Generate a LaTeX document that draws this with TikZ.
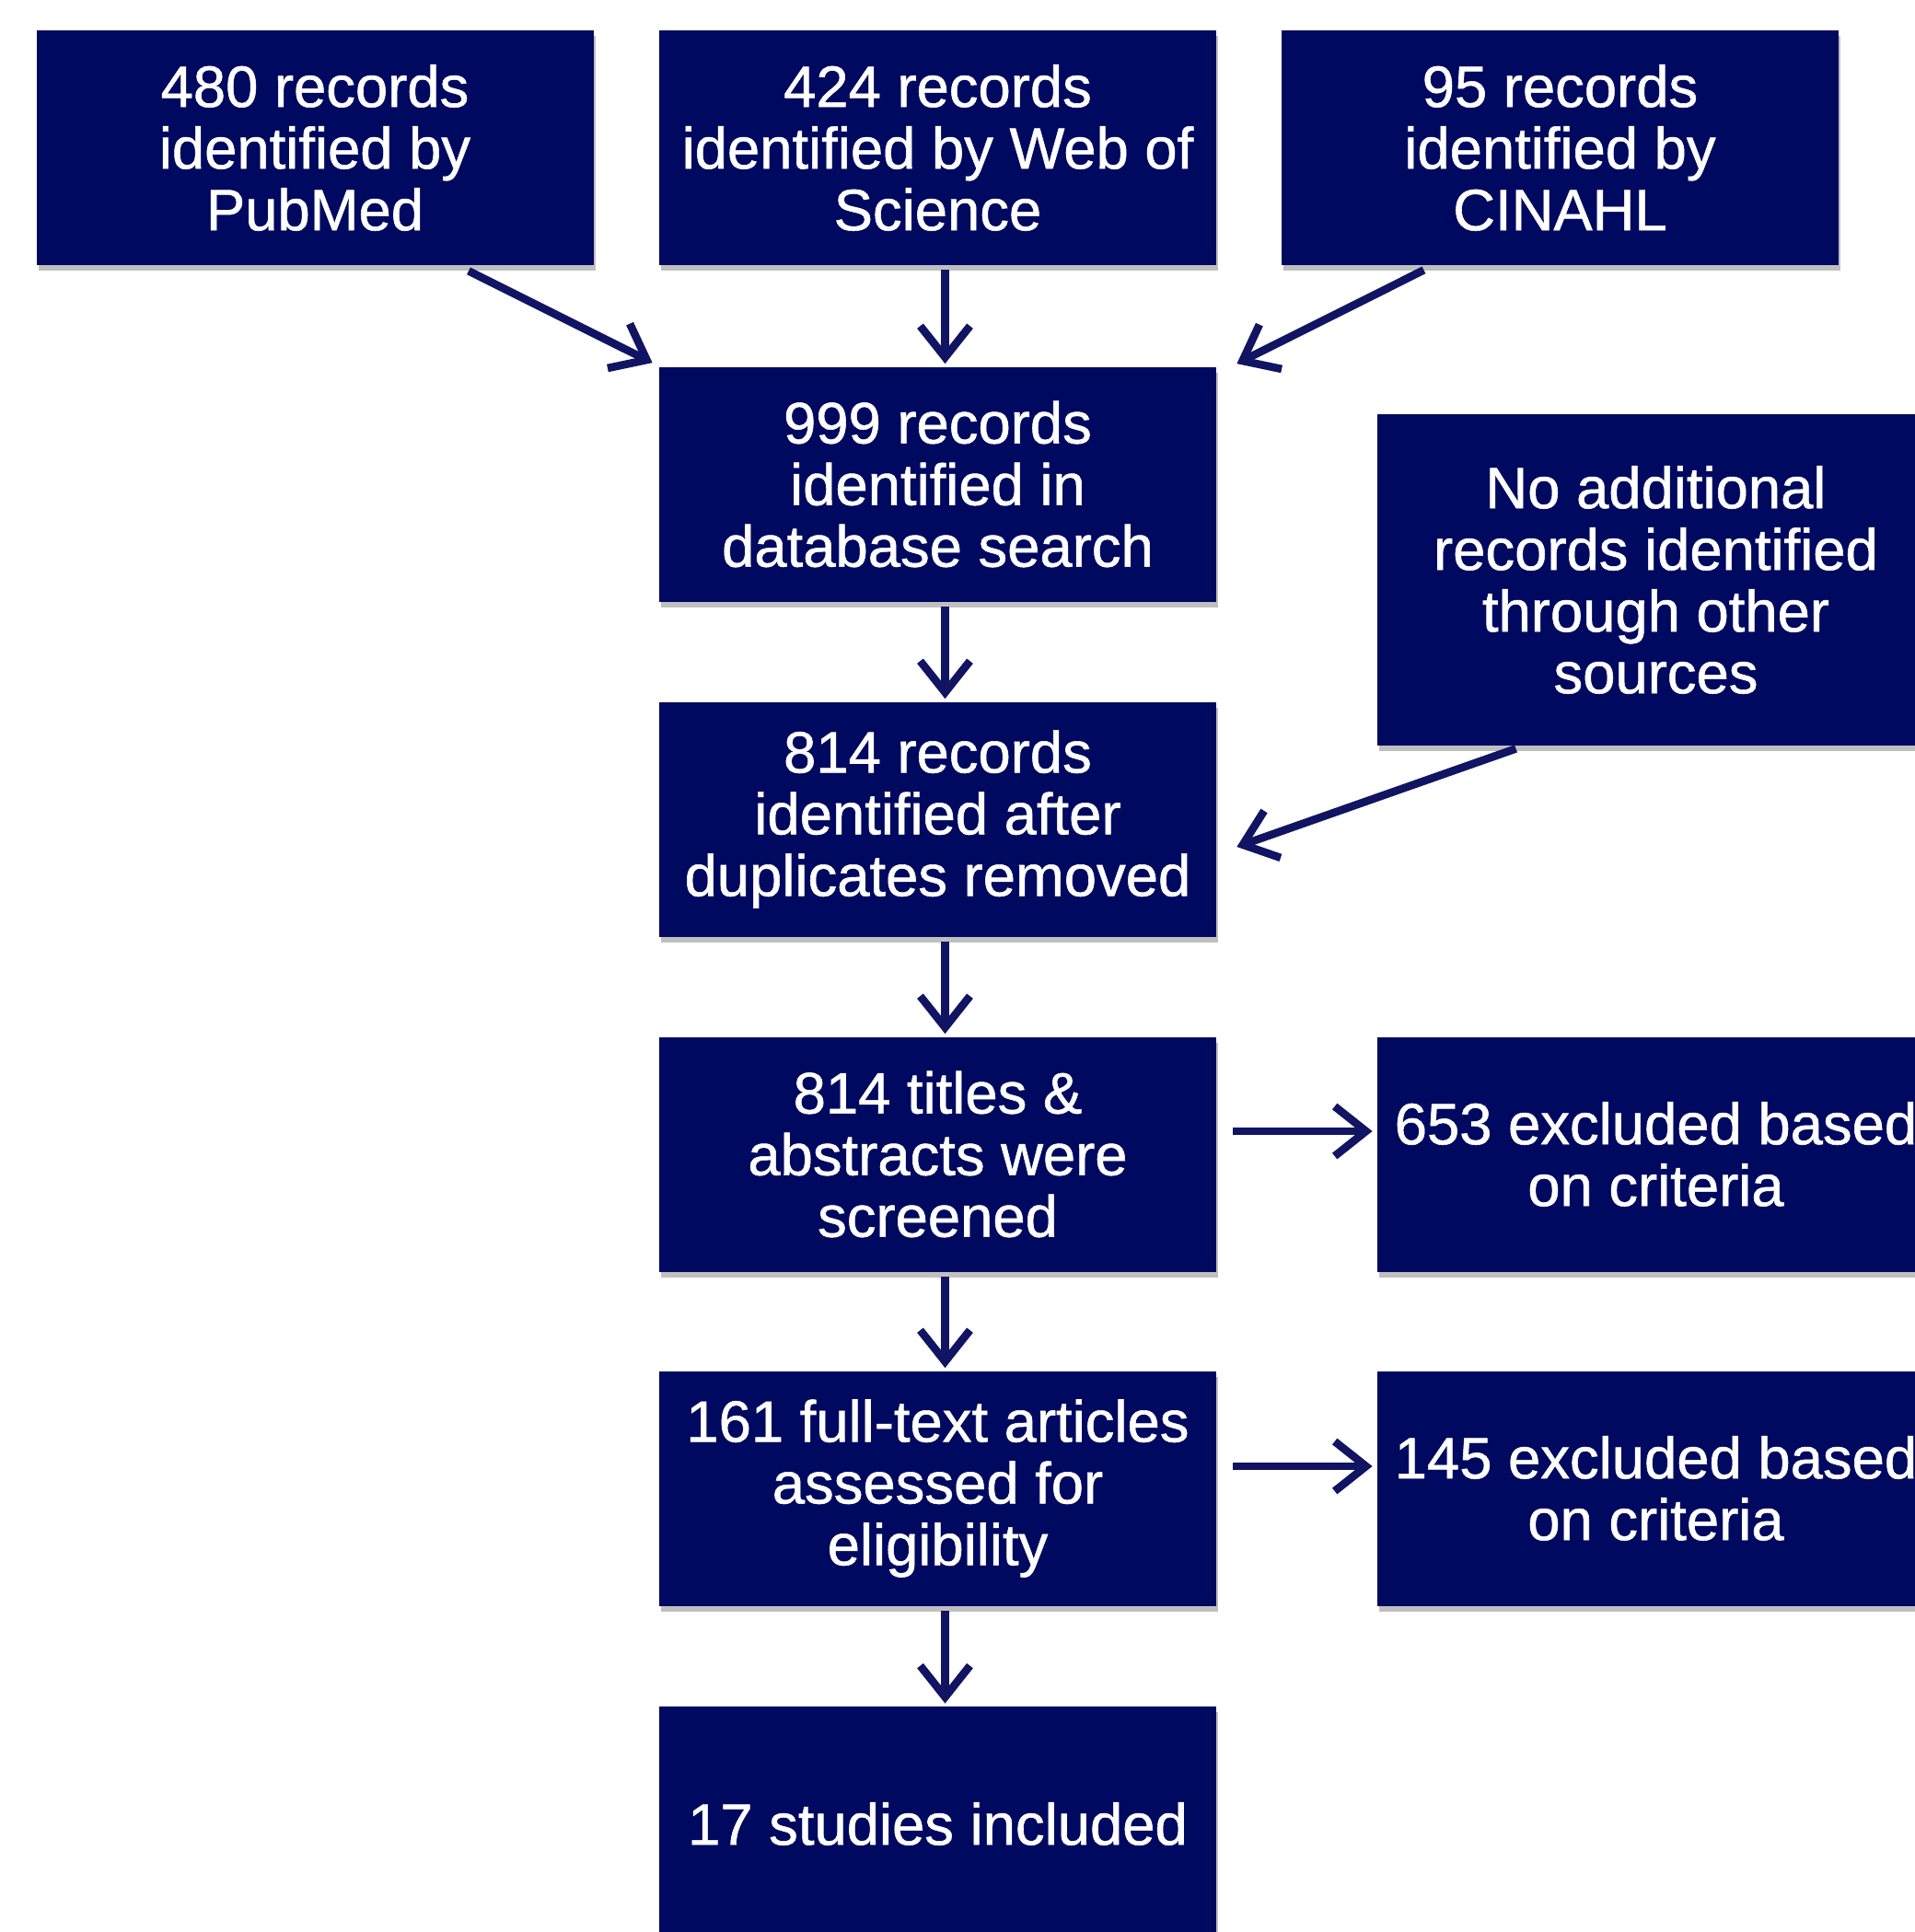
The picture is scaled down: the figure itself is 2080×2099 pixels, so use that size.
\documentclass[tikz,border=0pt]{standalone}
\usepackage{fontspec}
\setmainfont{Liberation Sans}
\newfontfamily\boxfont[FakeBold=0.9]{Liberation Sans}
\usetikzlibrary{arrows.meta,calc,shadows}
\definecolor{navy}{RGB}{0,9,96}
\definecolor{arrowc}{RGB}{16,20,98}
\begin{document}
\begin{tikzpicture}[x=0.5pt,y=-0.5pt,
  box/.style={fill=navy, text=white, inner sep=0pt, align=center,
    minimum width=302.5pt, minimum height=127.5pt,
    font=\boxfont\fontsize{31.7}{33.5}\selectfont,
    drop shadow={shadow xshift=1pt, shadow yshift=-3pt, opacity=0.25, fill=black}},
  conn/.style={draw=arrowc, line width=4.3pt,
    -{Straight Barb[length=17pt,width=27pt,line width=4.3pt]}}]
\useasboundingbox (0,0) rectangle (2080,2099);
\fill[white] (0,0) rectangle (2080,2099);

\node[box] (pub) at (342,160.5) {480 records\\identified by\\PubMed};
\node[box] (wos) at (1018.5,160.5) {424 records\\identified by Web of\\Science};
\node[box] (cin) at (1694.5,160.5) {95 records\\identified by\\CINAHL};
\node[box] (db) at (1018.5,526) {999 records\\identified in\\database search};
\node[box, minimum height=180pt] (other) at (1798.5,630) {No additional\\records identified\\through other\\sources};
\node[box] (dup) at (1018.5,890) {814 records\\identified after\\duplicates removed};
\node[box] (scr) at (1018.5,1254) {814 titles \&\\abstracts were\\screened};
\node[box] (ex1) at (1798.5,1254) {653 excluded based\\on criteria};
\node[box] (full) at (1018.5,1617) {161 full-text articles\\assessed for\\eligibility};
\node[box] (ex2) at (1798.5,1617) {145 excluded based\\on criteria};
\node[box] (inc) at (1018.5,1981.5) {17 studies included};

\draw[conn] ($(pub.south)+(167,6)$) -- ($(db.north west)+(-7,-4)$);
\draw[conn] ($(wos.south)+(8,5)$) -- ($(db.north)+(8,-3)$);
\draw[conn] ($(cin.south)+(-148,5)$) -- ($(db.north east)+(22,-3)$);
\draw[conn] ($(other.south)+(-152,3)$) -- ($(dup.east)+(22,30)$);
\draw[conn] ($(db.south)+(8,5)$) -- ($(dup.north)+(8,-3)$);
\draw[conn] ($(dup.south)+(8,5)$) -- ($(scr.north)+(8,-3)$);
\draw[conn] ($(scr.south)+(8,5)$) -- ($(full.north)+(8,-3)$);
\draw[conn] ($(full.south)+(8,5)$) -- ($(inc.north)+(8,-3)$);
\draw[conn] ($(scr.east)+(18,-25)$) -- ($(ex1.west)+(-5,-25)$);
\draw[conn] ($(full.east)+(18,-24)$) -- ($(ex2.west)+(-5,-24)$);
\end{tikzpicture}
\end{document}
